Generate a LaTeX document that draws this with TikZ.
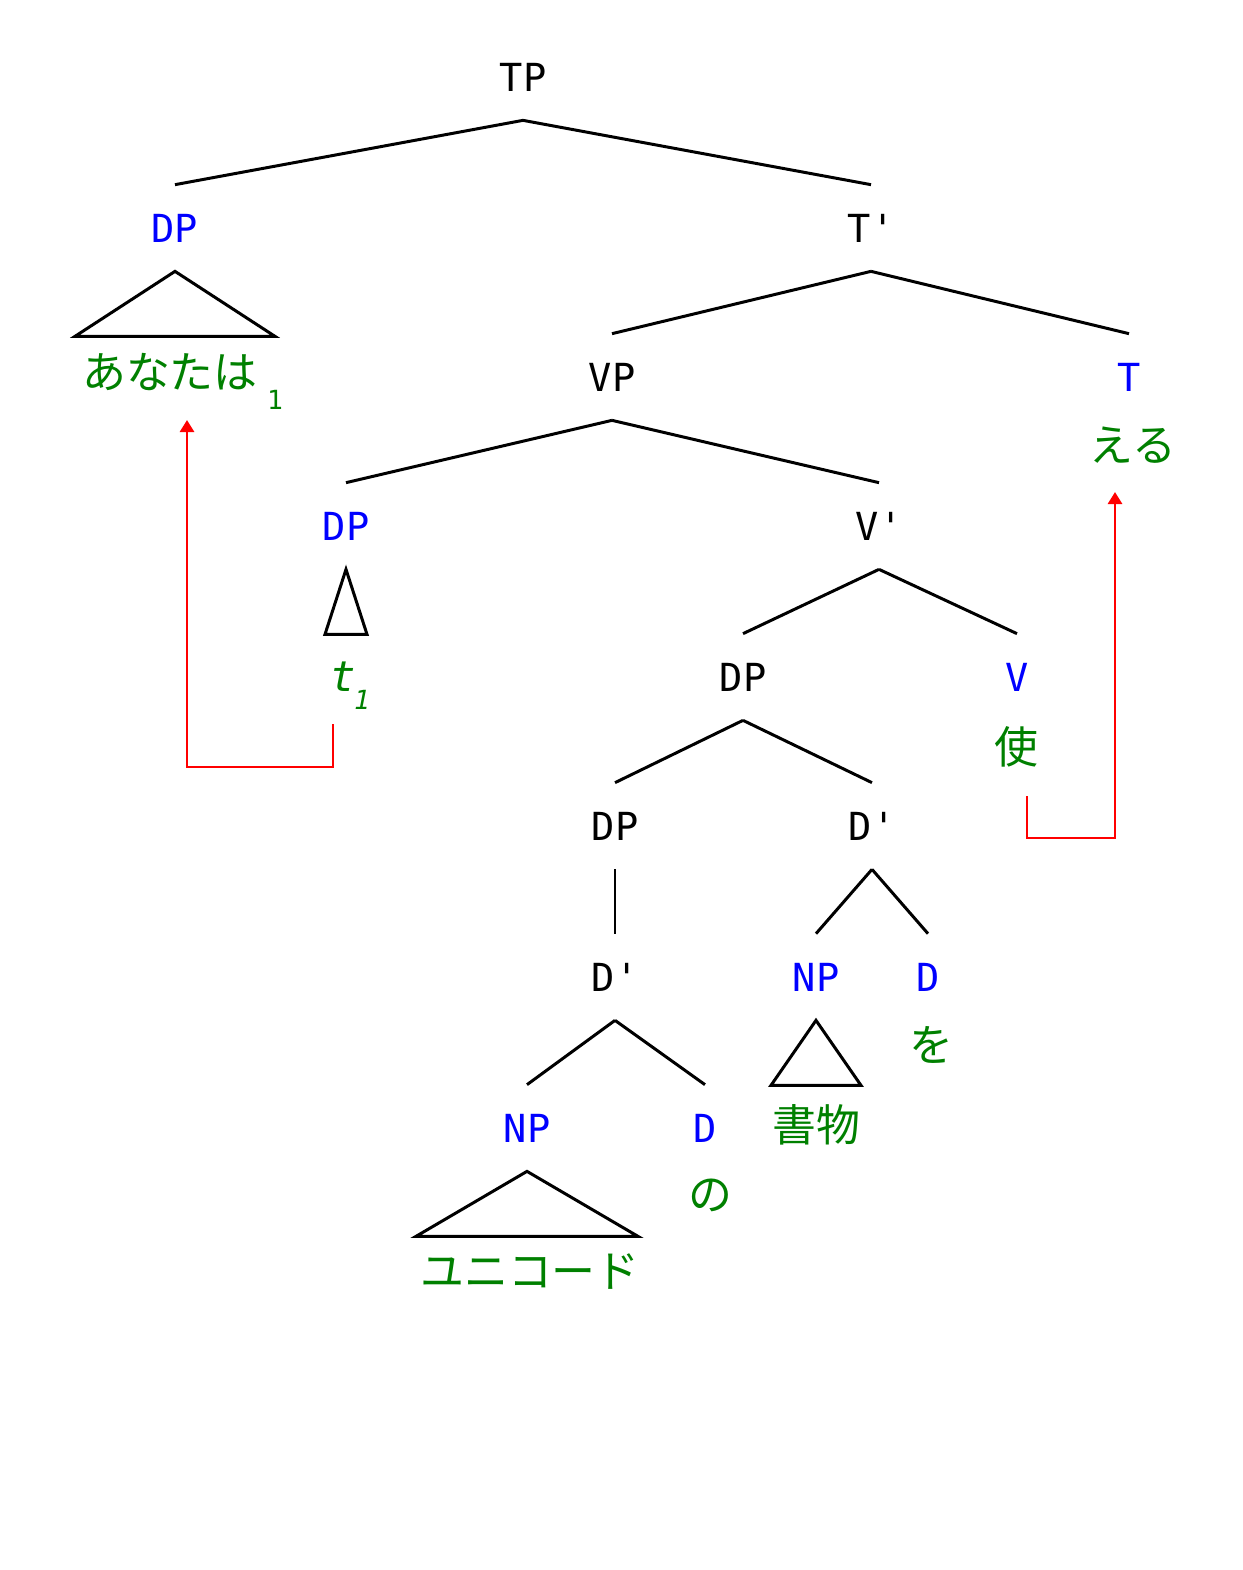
\documentclass[tikz,border=0pt]{standalone}
\usepackage{fontspec}
\setmonofont{DejaVu Sans Mono}
\newfontfamily\jpfont{Noto Sans CJK JP}
\usepackage{xcolor}
\usetikzlibrary{arrows.meta, positioning}
\definecolor{Cat_Blue}{HTML}{0000FF}
\definecolor{Lex_Green}{HTML}{008000}
\definecolor{Move_Red}{HTML}{FF0000}

\tikzset{
    cat/.style={font=\ttfamily\fontsize{22}{22}\selectfont, minimum height=1.72cm, inner sep=0pt},
    catb/.style={cat, text=Cat_Blue},
    lex/.style={font=\jpfont\fontsize{25}{25}\selectfont, text=Lex_Green, inner sep=0pt},
    idx/.style={font=\ttfamily\fontsize{15}{15}\selectfont, text=Lex_Green, inner sep=0pt},
    branch/.style={line width=1.7pt},
    move/.style={Move_Red, line width=1.6pt, -{Triangle[length=0.24cm, width=0.28cm]}}
}

\begin{document}
\begin{tikzpicture}[x=0.02cm, y=-0.02cm]

    % page is 1243 x 1570 units, y runs downwards
    \useasboundingbox (0,0) rectangle (1243,1570);

    % === TP level ===
    \node[cat] (tp) at (523,77) {TP};
    \node[catb] (dpSubj) at (175,228) {DP};
    \node[cat] (tbar) at (871,228) {T'};
    \draw[branch] (tp.south) -- (dpSubj.north);
    \draw[branch] (tp.south) -- (tbar.north);

    % subject with its triangle
    \draw[branch] (dpSubj.south) -- ++(-100,65) -- ++(200,0) -- cycle;
    \node[lex] (wAnata) at (170,372) {あなたは};
    \node[idx] (idxAnata) at (275,400) {1};

    % === T' level ===
    \node[cat] (vp) at (612,377) {VP};
    \node[catb] (tHead) at (1129,377) {T};
    \draw[branch] (tbar.south) -- (vp.north);
    \draw[branch] (tbar.south) -- (tHead.north);
    \node[lex] (wEru) at (1133,445) {える};

    % === VP level ===
    \node[catb] (dpTrace) at (346,526) {DP};
    \node[cat] (vbar) at (879,526) {V'};
    \draw[branch] (vp.south) -- (dpTrace.north);
    \draw[branch] (vp.south) -- (vbar.north);
    \draw[branch] (dpTrace.south) -- ++(-21,65) -- ++(42,0) -- cycle;
    \node[lex, font=\ttfamily\itshape\fontsize{24}{24}\selectfont] (wTrace) at (343,677) {t};
    \node[idx, font=\ttfamily\itshape\fontsize{15}{15}\selectfont] (idxTrace) at (362,700) {1};

    % === V' level ===
    \node[cat] (dpObj) at (743,677) {DP};
    \node[catb] (vHead) at (1017,677) {V};
    \draw[branch] (vbar.south) -- (dpObj.north);
    \draw[branch] (vbar.south) -- (vHead.north);
    \node[lex] (wTsuka) at (1016,747) {使};

    % === object DP ===
    \node[cat] (dpPoss) at (615,826) {DP};
    \node[cat] (dbarObj) at (872,826) {D'};
    \draw[branch] (dpObj.south) -- (dpPoss.north);
    \draw[branch] (dpObj.south) -- (dbarObj.north);

    \node[cat] (dbarPoss) at (615,977) {D'};
    \draw[branch] (dpPoss.south) -- (dbarPoss.north);

    \node[catb] (npObj) at (816,977) {NP};
    \node[catb] (dObj) at (928,977) {D};
    \draw[branch] (dbarObj.south) -- (npObj.north);
    \draw[branch] (dbarObj.south) -- (dObj.north);
    \draw[branch] (npObj.south) -- ++(-45,65) -- ++(90,0) -- cycle;
    \node[lex] (wShomotsu) at (816,1125) {書物};
    \node[lex] (wWo) at (931,1045) {を};

    % === possessor ===
    \node[catb] (npPoss) at (527,1128) {NP};
    \node[catb] (dPoss) at (705,1128) {D};
    \draw[branch] (dbarPoss.south) -- (npPoss.north);
    \draw[branch] (dbarPoss.south) -- (dPoss.north);
    \draw[branch] (npPoss.south) -- ++(-111,65) -- ++(222,0) -- cycle;
    \node[lex] (wUnicode) at (530,1272) {ユニコード};
    \node[lex] (wNo) at (710,1195) {の};

    % === movement ===
    \coordinate (trSubj) at (333,724);
    \coordinate (lnSubj) at (187,420);
    \draw[move] (trSubj) -- ++(0,43) -| (lnSubj);

    \coordinate (trVerb) at (1027,796);
    \coordinate (lnVerb) at (1115,492);
    \draw[move] (trVerb) -- ++(0,42) -| (lnVerb);

\end{tikzpicture}
\end{document}
